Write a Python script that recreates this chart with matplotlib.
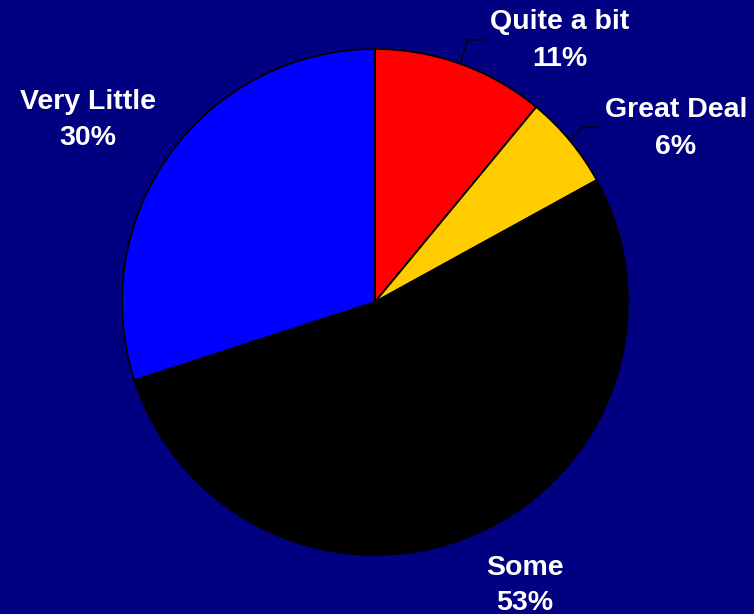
import numpy as np
import matplotlib
matplotlib.use("Agg")
import matplotlib.pyplot as plt

categories = ["Quite a bit", "Great Deal", "Some", "Very Little"]
values = [11, 6, 53, 30]
pct_labels = ["11%", "6%", "53%", "30%"]
colors = ["#FF0000", "#FFCC00", "#000000", "#0000FF"]

W, H = 754, 614
BG = "#000080"
fig = plt.figure(figsize=(W / 100, H / 100), dpi=100, facecolor=BG)
ax = fig.add_axes([0, 0, 1, 1])
ax.set_facecolor(BG)
ax.set_xlim(0, W)
ax.set_ylim(0, H)
ax.set_aspect("equal")
ax.axis("off")

cx, cy, R = 375, H - 302, 253
wedges, _ = ax.pie(values, colors=colors, startangle=90, counterclock=False,
                   center=(cx, cy), radius=R,
                   wedgeprops=dict(edgecolor="black", linewidth=1.3))
ax.set_xlim(0, W)
ax.set_ylim(0, H)

# label positions (pixel coords, top-left origin): name line, pct line
label_pos = {
    "Quite a bit": (560, 22, 59),
    "Great Deal": (676, 110, 147),
    "Some": (525, 568, 603),
    "Very Little": (88, 102, 138),
}
fs = 20.5
for cat, pct in zip(categories, pct_labels):
    x, y1, y2 = label_pos[cat]
    ax.text(x, H - y1, cat, ha="center", va="center", color="white",
            fontsize=fs, fontweight="bold", family="Liberation Sans")
    ax.text(x, H - y2, pct, ha="center", va="center", color="white",
            fontsize=fs, fontweight="bold", family="Liberation Sans")

# leader lines for the two small slices
elbows = [(467, 40), (583, 127)]
for w, (exp, eyp) in zip(wedges[:2], elbows):
    mid = np.deg2rad((w.theta1 + w.theta2) / 2)
    x0, y0 = cx + R * np.cos(mid), cy + R * np.sin(mid)
    ex, ey = exp, H - eyp
    ax.plot([x0, ex, ex + 16], [y0, ey, ey], color="black", linewidth=1.0)

fig.savefig("out.png", dpi=100, facecolor=BG)
